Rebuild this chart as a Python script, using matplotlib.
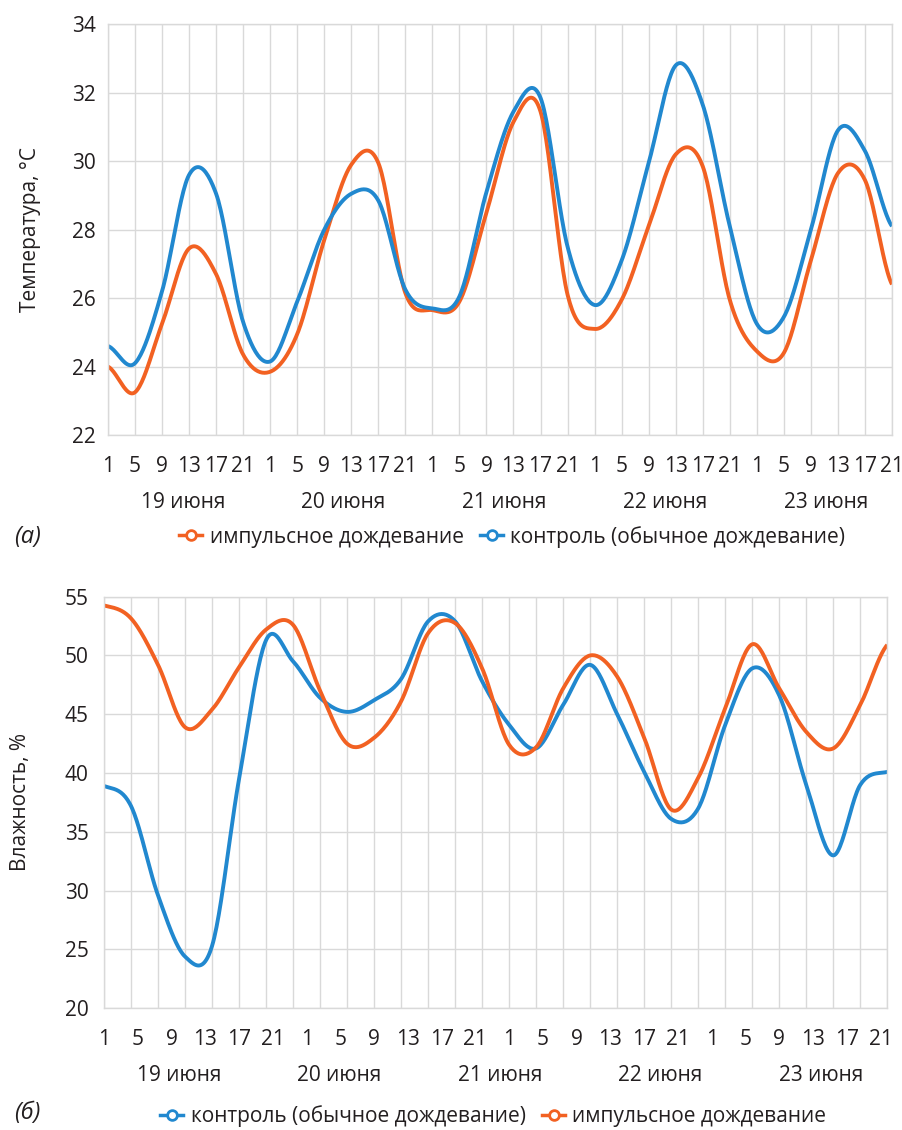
import numpy as np
import matplotlib.pyplot as plt
from matplotlib.lines import Line2D

plt.rcParams['font.family'] = ['Open Sans', 'DejaVu Sans']

# часы измерений и дни
hours = ['1', '5', '9', '13', '17', '21']
days = ['19 июня', '20 июня', '21 июня', '22 июня', '23 июня']

# температура, °C (по 6 измерений в сутки)
temp_impulse = [24.0, 23.25, 25.25, 27.45, 26.7, 24.35,
                23.85, 24.95, 27.7, 29.9, 29.95, 26.15,
                25.65, 25.9, 28.5, 31.15, 31.45, 26.1,
                25.1, 25.95, 28.1, 30.2, 29.85, 25.95,
                24.45, 24.4, 27.1, 29.65, 29.45, 26.4]
temp_control = [24.6, 24.1, 26.2, 29.6, 29.05, 25.3,
                24.15, 25.9, 28.0, 29.05, 28.85, 26.25,
                25.7, 26.05, 29.1, 31.45, 31.85, 27.5,
                25.8, 27.1, 29.95, 32.8, 31.65, 28.1,
                25.25, 25.45, 28.0, 30.9, 30.3, 28.1]

# влажность, %
hum_control = [38.9, 37.2, 29.6, 24.4, 25.3, 39.5,
               51.3, 49.5, 46.4, 45.2, 46.2, 48.0,
               52.9, 52.9, 47.8, 44.1, 42.1, 45.8,
               49.2, 45.0, 40.1, 36.1, 37.0, 44.1,
               48.9, 46.6, 39.0, 33.0, 39.0, 40.1]
hum_impulse = [54.25, 53.15, 49.2, 43.9, 45.4, 49.0,
               52.2, 52.6, 47.0, 42.5, 43.0, 46.1,
               51.9, 52.75, 48.9, 42.4, 42.2, 47.2,
               50.0, 48.2, 43.0, 36.9, 39.6, 45.5,
               50.95, 47.2, 43.5, 42.1, 45.8, 50.9]

BLUE = '#2188CF'
ORANGE = '#F26122'
GRID = '#D9D9D9'
TXT = '#231F20'
FS = 15


# сглаживание как в Excel (сплайн Катмулла-Рома)
def smooth(y, n=24):
    y = np.asarray(y, float)
    yp = np.concatenate([[y[0]], y, [y[-1]]])
    m = (yp[2:] - yp[:-2]) / 2
    t = np.linspace(0, 1, n, endpoint=False)
    h00 = 2*t**3 - 3*t**2 + 1
    h10 = t**3 - 2*t**2 + t
    h01 = -2*t**3 + 3*t**2
    h11 = t**3 - t**2
    xs, ys = [], []
    for i in range(len(y) - 1):
        xs.append(i + t)
        ys.append(h00*y[i] + h10*m[i] + h01*y[i+1] + h11*m[i+1])
    xs.append([len(y) - 1])
    ys.append([y[-1]])
    return np.concatenate(xs), np.concatenate(ys)


def style_axes(ax):
    ax.set_xlim(0, 29)
    ax.set_xticks(range(30))
    ax.grid(True, which='major', color=GRID, lw=1.0)
    ax.set_axisbelow(True)
    for s in ax.spines.values():
        s.set_color(GRID)
        s.set_linewidth(1.0)
    ax.tick_params(which='both', length=0, labelsize=FS, colors=TXT)


fig = plt.figure(figsize=(9.02, 11.3), dpi=100)

# (а) температура
ax1 = fig.add_axes([0.1197, 0.6150, 0.8692, 0.3635])
style_axes(ax1)
ax1.plot(*smooth(temp_impulse), color=ORANGE, lw=2.8, solid_capstyle='butt')
ax1.plot(*smooth(temp_control), color=BLUE, lw=2.8, solid_capstyle='butt')
ax1.set_ylim(22, 34)
ax1.set_yticks(range(22, 35, 2))
ax1.set_xticklabels(hours * 5)
ax1.tick_params(axis='x', pad=15)
ax1.tick_params(axis='y', pad=9)
ax1.set_ylabel('Температура, °C', fontsize=FS, color=TXT, labelpad=22)

# (б) влажность
ax2 = fig.add_axes([0.1153, 0.1077, 0.8684, 0.3643])
style_axes(ax2)
ax2.plot(*smooth(hum_control), color=BLUE, lw=2.8, solid_capstyle='butt')
ax2.plot(*smooth(hum_impulse), color=ORANGE, lw=2.8, solid_capstyle='butt')
ax2.set_ylim(20, 55)
ax2.set_yticks(range(20, 56, 5))
ax2.set_xticklabels([])
ax2.xaxis.remove_overlapping_locs = False
ax2.set_xticks(np.linspace(0, 28.75, 24), minor=True)
ax2.set_xticklabels(hours * 4, minor=True)
ax2.tick_params(axis='x', which='minor', pad=15)
ax2.tick_params(axis='y', pad=11)
ax2.set_ylabel('Влажность, %', fontsize=FS, color=TXT, labelpad=24)

day_pos = [2.8, 8.7, 14.65, 20.6, 26.55]
for ax in (ax1, ax2):
    for d, p in zip(days, day_pos):
        ax.text(p, -0.163, d, transform=ax.get_xaxis_transform(),
                ha='center', va='center', fontsize=FS, color=TXT)


def handle(c):
    return Line2D([], [], color=c, lw=2.5, marker='o', ms=7,
                  mfc='white', mec=c, mew=2)


leg_kw = dict(ncol=2, frameon=False, fontsize=FS, handlelength=1.1,
              handletextpad=0.35, columnspacing=0.8, labelcolor=TXT)
fig.legend([handle(ORANGE), handle(BLUE)],
           ['импульсное дождевание', 'контроль (обычное дождевание)'],
           loc='center', bbox_to_anchor=(0.568, 0.525), **leg_kw)
fig.legend([handle(BLUE), handle(ORANGE)],
           ['контроль (обычное дождевание)', 'импульсное дождевание'],
           loc='center', bbox_to_anchor=(0.547, 0.0125), **leg_kw)

fig.text(0.03, 0.525, '(а)', fontsize=17, style='italic', color=TXT,
         ha='center', va='center')
fig.text(0.03, 0.0148, '(б)', fontsize=17, style='italic', color=TXT,
         ha='center', va='center')

fig.savefig('out.png', dpi=100, facecolor='white')
